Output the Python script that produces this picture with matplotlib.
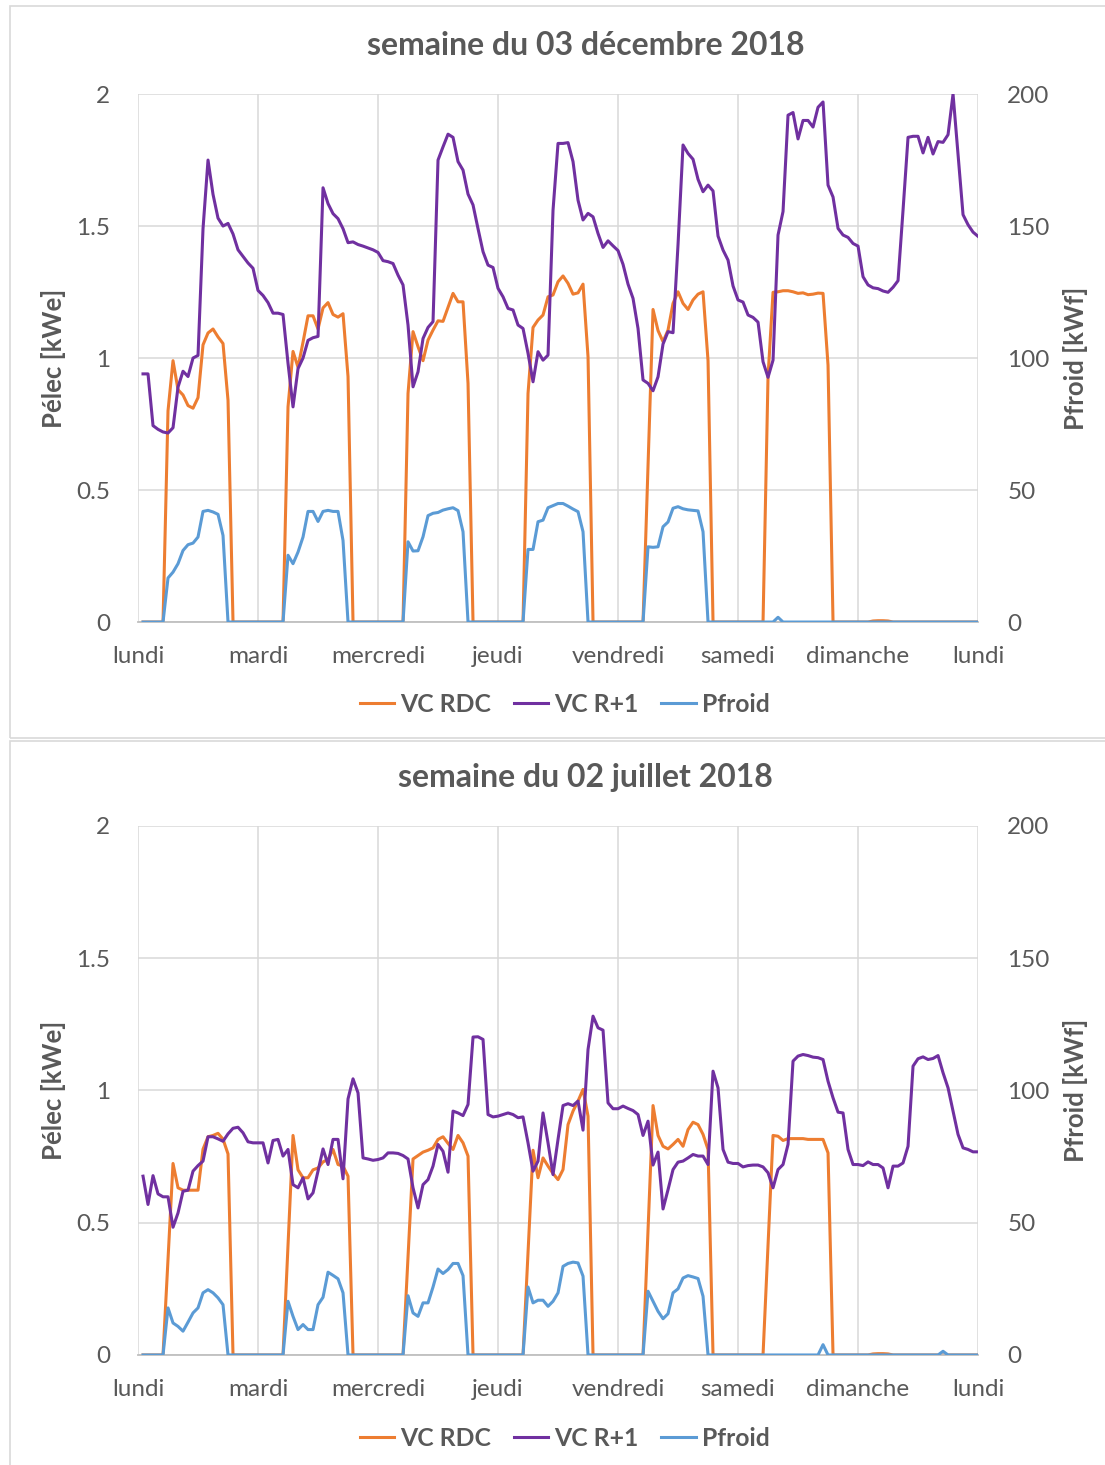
import matplotlib
matplotlib.use('Agg')
import numpy as np
from matplotlib import pyplot as plt
from matplotlib.patches import Rectangle

plt.rcParams['font.family'] = ['Lato', 'DejaVu Sans']

# heures 1..168 de la semaine (lundi 01h -> lundi suivant 00h)
hours = np.arange(1, 169)
days = ['lundi', 'mardi', 'mercredi', 'jeudi', 'vendredi', 'samedi', 'dimanche', 'lundi']

# ---- semaine du 03 decembre 2018
dec_rdc = [
    0, 0, 0, 0, 0, 0.80, 0.99, 0.88, 0.86, 0.82, 0.81, 0.85, 1.05, 1.095, 1.11, 1.08, 1.055, 0.84, 0, 0, 0, 0, 0, 0,
    0, 0, 0, 0, 0, 0.815, 1.025, 0.965, 1.06, 1.16, 1.16, 1.11, 1.19, 1.21, 1.165, 1.155, 1.168, 0.93, 0, 0, 0, 0, 0, 0,
    0, 0, 0, 0, 0, 0.866, 1.10, 1.043, 0.99, 1.068, 1.106, 1.141, 1.139, 1.192, 1.245, 1.213, 1.213, 0.904, 0, 0, 0, 0, 0, 0,
    0, 0, 0, 0, 0, 0.866, 1.116, 1.144, 1.163, 1.232, 1.239, 1.289, 1.311, 1.283, 1.242, 1.247, 1.28, 1.005, 0, 0, 0, 0, 0, 0,
    0, 0, 0, 0, 0, 0.59, 1.184, 1.104, 1.062, 1.106, 1.207, 1.251, 1.207, 1.184, 1.22, 1.242, 1.251, 0.99, 0, 0, 0, 0, 0, 0,
    0, 0, 0, 0, 0, 0.93, 1.249, 1.251, 1.255, 1.255, 1.251, 1.245, 1.247, 1.24, 1.242, 1.246, 1.245, 0.973, 0, 0, 0, 0, 0, 0,
    0, 0, 0.004, 0.005, 0.005, 0.004, 0, 0, 0, 0, 0, 0, 0, 0, 0, 0, 0, 0, 0, 0, 0, 0, 0, 0,
]
dec_r1 = [
    0.94, 0.94, 0.744, 0.73, 0.72, 0.716, 0.736, 0.89, 0.95, 0.93, 1.0, 1.01, 1.49, 1.75, 1.62, 1.53, 1.50, 1.51, 1.47, 1.41, 1.385, 1.36, 1.34, 1.256,
    1.237, 1.21, 1.17, 1.17, 1.165, 0.98, 0.815, 0.96, 1.0, 1.067, 1.077, 1.082, 1.645, 1.585, 1.547, 1.528, 1.49, 1.437, 1.44, 1.43, 1.424, 1.417, 1.41, 1.40,
    1.369, 1.365, 1.358, 1.314, 1.277, 1.125, 0.891, 0.948, 1.074, 1.116, 1.138, 1.75, 1.80, 1.848, 1.836, 1.744, 1.712, 1.621, 1.58, 1.49, 1.403, 1.352, 1.343, 1.264,
    1.232, 1.188, 1.182, 1.125, 1.112, 1.018, 0.91, 1.024, 0.992, 1.011, 1.56, 1.813, 1.813, 1.816, 1.744, 1.598, 1.523, 1.548, 1.535, 1.472, 1.419, 1.444, 1.425, 1.407,
    1.355, 1.28, 1.226, 1.112, 0.917, 0.904, 0.876, 0.929, 1.053, 1.10, 1.096, 1.43, 1.807, 1.775, 1.753, 1.677, 1.63, 1.655, 1.633, 1.462, 1.409, 1.371, 1.273, 1.22,
    1.212, 1.163, 1.154, 1.136, 0.986, 0.927, 0.992, 1.466, 1.555, 1.92, 1.93, 1.83, 1.90, 1.90, 1.875, 1.95, 1.97, 1.655, 1.61, 1.491, 1.466, 1.457, 1.434, 1.424,
    1.308, 1.277, 1.266, 1.263, 1.254, 1.249, 1.268, 1.293, 1.56, 1.836, 1.84, 1.84, 1.777, 1.836, 1.773, 1.82, 1.817, 1.846, 2.0, 1.77, 1.543, 1.505, 1.477, 1.461,
]
dec_froid = [
    0, 0, 0, 0, 0, 16.7, 18.9, 22.1, 27.1, 29.3, 29.9, 32.2, 41.9, 42.3, 41.7, 40.8, 32.8, 0, 0, 0, 0, 0, 0, 0,
    0, 0, 0, 0, 0, 25.3, 22.1, 26.5, 32.2, 41.9, 41.9, 38.1, 41.9, 42.3, 41.9, 41.9, 30.9, 0, 0, 0, 0, 0, 0, 0,
    0, 0, 0, 0, 0, 30.4, 26.9, 27.0, 32.3, 40.3, 41.2, 41.5, 42.4, 42.9, 43.3, 42.2, 34.2, 0, 0, 0, 0, 0, 0, 0,
    0, 0, 0, 0, 0, 27.5, 27.5, 38.0, 38.6, 43.3, 44.1, 44.9, 44.9, 43.9, 42.8, 41.8, 34.2, 0, 0, 0, 0, 0, 0, 0,
    0, 0, 0, 0, 0, 28.5, 28.3, 28.5, 36.1, 37.9, 43.1, 43.7, 42.9, 42.5, 42.3, 42.1, 34.2, 0, 0, 0, 0, 0, 0, 0,
    0, 0, 0, 0, 0, 0, 0, 1.8, 0, 0, 0, 0, 0, 0, 0, 0, 0, 0, 0, 0, 0, 0, 0, 0,
    0, 0, 0, 0, 0, 0, 0, 0, 0, 0, 0, 0, 0, 0, 0, 0, 0, 0, 0, 0, 0, 0, 0, 0,
]

# ---- semaine du 02 juillet 2018
jul_rdc = [
    0, 0, 0, 0, 0, 0.36, 0.724, 0.632, 0.623, 0.623, 0.623, 0.623, 0.778, 0.825, 0.83, 0.838, 0.816, 0.76, 0, 0, 0, 0, 0, 0,
    0, 0, 0, 0, 0, 0.415, 0.83, 0.70, 0.67, 0.67, 0.70, 0.707, 0.73, 0.739, 0.777, 0.72, 0.714, 0.676, 0, 0, 0, 0, 0, 0,
    0, 0, 0, 0, 0, 0.37, 0.741, 0.754, 0.767, 0.774, 0.783, 0.815, 0.825, 0.80, 0.777, 0.83, 0.802, 0.752, 0, 0, 0, 0, 0, 0,
    0, 0, 0, 0, 0, 0.386, 0.774, 0.67, 0.745, 0.714, 0.686, 0.663, 0.701, 0.871, 0.922, 0.96, 1.004, 0.903, 0, 0, 0, 0, 0, 0,
    0, 0, 0, 0, 0, 0.47, 0.943, 0.83, 0.789, 0.779, 0.796, 0.815, 0.789, 0.852, 0.88, 0.871, 0.834, 0.777, 0, 0, 0, 0, 0, 0,
    0, 0, 0, 0, 0, 0.414, 0.83, 0.827, 0.811, 0.818, 0.818, 0.818, 0.818, 0.815, 0.815, 0.815, 0.815, 0.764, 0, 0, 0, 0, 0, 0,
    0, 0, 0.004, 0.005, 0.005, 0.004, 0, 0, 0, 0, 0, 0, 0, 0, 0, 0, 0, 0, 0, 0, 0, 0, 0, 0,
]
jul_r1 = [
    0.676, 0.569, 0.678, 0.609, 0.598, 0.598, 0.483, 0.537, 0.619, 0.623, 0.695, 0.716, 0.733, 0.825, 0.825, 0.817, 0.808, 0.836, 0.857, 0.861, 0.84, 0.806, 0.802, 0.802,
    0.802, 0.726, 0.811, 0.815, 0.752, 0.777, 0.644, 0.632, 0.67, 0.59, 0.613, 0.695, 0.779, 0.72, 0.815, 0.815, 0.666, 0.968, 1.044, 0.991, 0.745, 0.741, 0.736, 0.739,
    0.745, 0.764, 0.764, 0.762, 0.754, 0.741, 0.632, 0.556, 0.644, 0.663, 0.714, 0.796, 0.77, 0.691, 0.922, 0.915, 0.905, 0.947, 1.202, 1.203, 1.193, 0.909, 0.90, 0.903,
    0.909, 0.915, 0.909, 0.897, 0.90, 0.802, 0.695, 0.733, 0.915, 0.802, 0.682, 0.815, 0.943, 0.95, 0.943, 0.96, 0.85, 1.155, 1.281, 1.237, 1.228, 0.953, 0.931, 0.931,
    0.941, 0.932, 0.924, 0.909, 0.83, 0.884, 0.718, 0.767, 0.552, 0.625, 0.701, 0.729, 0.733, 0.745, 0.758, 0.752, 0.752, 0.72, 1.073, 1.01, 0.777, 0.729, 0.724, 0.724,
    0.711, 0.716, 0.718, 0.718, 0.711, 0.689, 0.632, 0.701, 0.72, 0.796, 1.111, 1.13, 1.136, 1.132, 1.126, 1.124, 1.117, 1.035, 0.972, 0.918, 0.915, 0.777, 0.72, 0.72,
    0.716, 0.73, 0.72, 0.72, 0.707, 0.632, 0.714, 0.714, 0.726, 0.789, 1.092, 1.12, 1.127, 1.117, 1.121, 1.132, 1.067, 1.01, 0.922, 0.834, 0.783, 0.777, 0.768, 0.768,
]
jul_froid = [
    0, 0, 0, 0, 0, 17.8, 12.1, 10.8, 9.0, 12.4, 15.9, 17.8, 23.5, 24.7, 23.5, 21.6, 19.0, 0, 0, 0, 0, 0, 0, 0,
    0, 0, 0, 0, 0, 20.3, 14.6, 9.6, 11.5, 9.6, 9.6, 19.0, 21.8, 31.3, 30.1, 28.8, 23.5, 0, 0, 0, 0, 0, 0, 0,
    0, 0, 0, 0, 0, 22.4, 15.9, 14.6, 19.7, 19.7, 25.7, 32.5, 30.8, 32.3, 34.6, 34.6, 30.0, 0, 0, 0, 0, 0, 0, 0,
    0, 0, 0, 0, 0, 25.7, 19.7, 20.7, 20.7, 18.4, 20.3, 23.5, 33.5, 34.6, 35.1, 34.8, 29.8, 0, 0, 0, 0, 0, 0, 0,
    0, 0, 0, 0, 0, 24.1, 20.3, 16.5, 13.7, 15.6, 23.5, 25.0, 29.1, 30.0, 29.5, 28.9, 22.2, 0, 0, 0, 0, 0, 0, 0,
    0, 0, 0, 0, 0, 0, 0, 0, 0, 0, 0, 0, 0, 0, 0, 0, 3.9, 0, 0, 0, 0, 0, 0, 0,
    0, 0, 0, 0, 0, 0, 0, 0, 0, 0, 0, 0, 0, 0, 0, 0, 1.4, 0, 0, 0, 0, 0, 0, 0,
]

C_RDC = '#ED7D31'
C_R1 = '#7030A0'
C_FROID = '#5B9BD5'
GRID = '#d9d9d9'
TXT = '#595959'

fig = plt.figure(figsize=(11.05, 14.65), dpi=100)

# cadres des deux graphiques
fig.patches.append(Rectangle((0.009, 0.4962), 1.0, 0.4997, transform=fig.transFigure,
                             fill=False, edgecolor=GRID, lw=1.2))
fig.patches.append(Rectangle((0.009, -0.01), 1.0, 0.5042, transform=fig.transFigure,
                             fill=False, edgecolor=GRID, lw=1.2))


def draw_panel(rect, title, rdc, r1, froid, title_y, legend_y):
    ax = fig.add_axes(rect)
    ax.plot(hours, rdc, color=C_RDC, lw=2.2, label='VC RDC')
    ax.plot(hours, r1, color=C_R1, lw=2.2, label='VC R+1')
    ax.set_xlim(0, 168)
    ax.set_ylim(0, 2)
    ax.set_yticks([0, 0.5, 1, 1.5, 2])
    ax.set_yticklabels(['0', '0.5', '1', '1.5', '2'])
    ax.set_xticks(np.arange(0, 169, 24))
    ax.set_xticklabels(days)
    ax.grid(True, color=GRID, lw=1.1)
    ax.set_axisbelow(True)
    for s in ['top', 'right', 'left']:
        ax.spines[s].set_visible(False)
    ax.spines['bottom'].set_color('#bfbfbf')
    ax.spines['bottom'].set_linewidth(1.3)
    ax.tick_params(axis='both', length=0, labelsize=17.5, labelcolor=TXT)
    ax.tick_params(axis='y', pad=20)
    ax.tick_params(axis='x', pad=17)

    ax2 = ax.twinx()
    ax2.plot(hours, froid, color=C_FROID, lw=2.2, label='Pfroid')
    ax2.set_ylim(0, 200)
    ax2.set_yticks([0, 50, 100, 150, 200])
    for s in ['top', 'right', 'left', 'bottom']:
        ax2.spines[s].set_visible(False)
    ax2.tick_params(axis='y', length=0, labelsize=17.5, labelcolor=TXT, pad=21)

    mid = rect[1] + rect[3] / 2
    fig.text(0.530, title_y, title, ha='center', va='center', fontsize=23,
             fontweight='bold', color=TXT)
    fig.text(0.048, mid, 'Pélec [kWe]', rotation=90, ha='center', va='center',
             fontsize=18.5, fontweight='bold', color=TXT)
    fig.text(0.973, mid, 'Pfroid [kWf]', rotation=90, ha='center', va='center',
             fontsize=18.5, fontweight='bold', color=TXT)

    h1, l1 = ax.get_legend_handles_labels()
    h2, l2 = ax2.get_legend_handles_labels()
    leg = fig.legend(h1 + h2, l1 + l2, loc='center', bbox_to_anchor=(0.511, legend_y),
                     ncol=3, frameon=False, handlelength=1.4, handletextpad=0.25,
                     columnspacing=0.9, prop={'size': 17.8, 'weight': 'bold'})
    for t in leg.get_texts():
        t.set_color(TXT)
    return ax, ax2


draw_panel([0.1249, 0.5754, 0.7602, 0.3604], 'semaine du 03 décembre 2018',
           dec_rdc, dec_r1, dec_froid, 0.969, 0.5193)
draw_panel([0.1249, 0.0751, 0.7602, 0.3611], 'semaine du 02 juillet 2018',
           jul_rdc, jul_r1, jul_froid, 0.4693, 0.0182)

fig.savefig('out.png', dpi=100)
